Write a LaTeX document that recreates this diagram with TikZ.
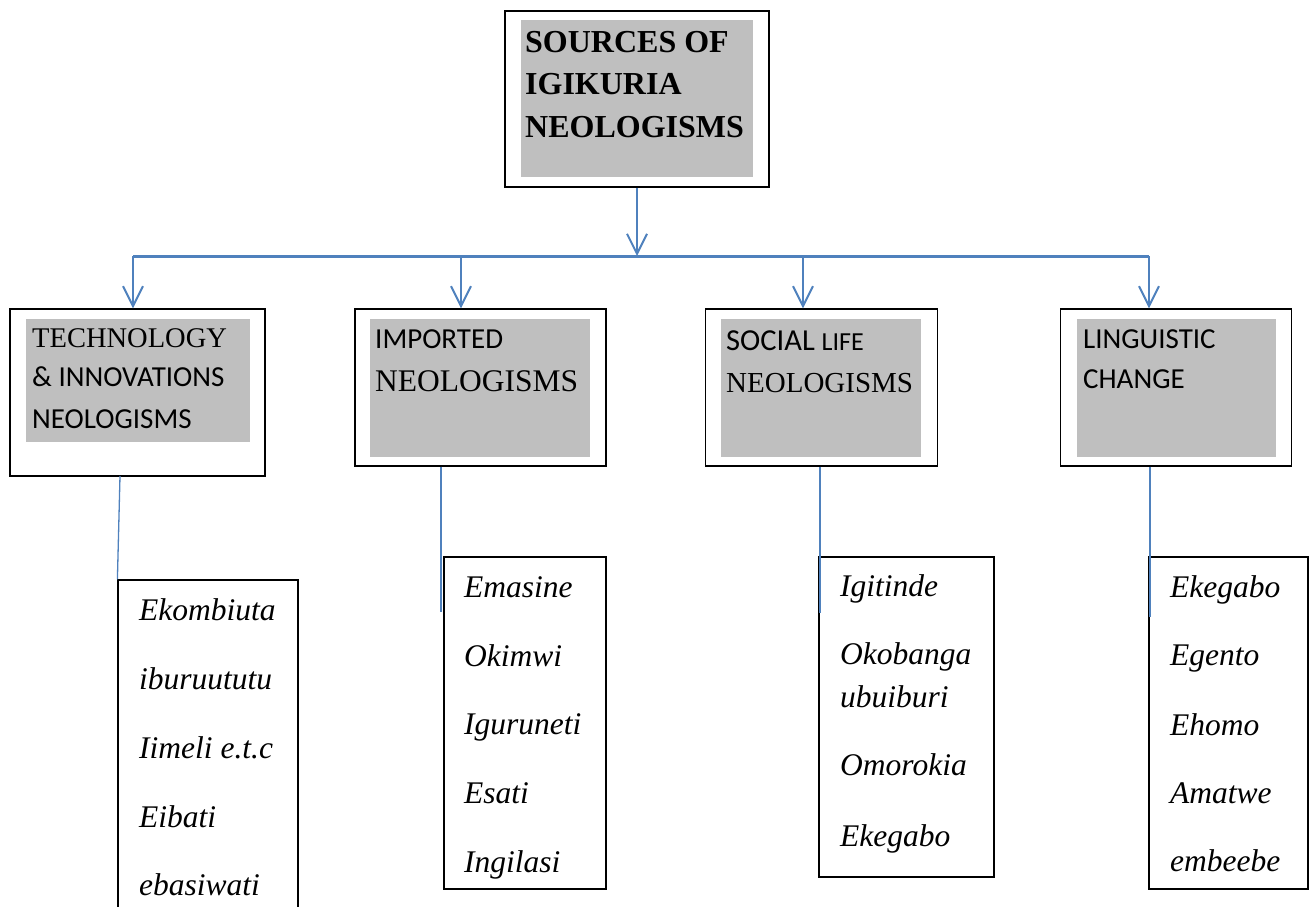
\documentclass[tikz,border=0pt]{standalone}
\usepackage{fontspec}
\setmainfont{Liberation Serif}
\newfontfamily\calfont{Carlito}
\usetikzlibrary{arrows.meta}

\definecolor{linkblue}{HTML}{4F81BD}
\definecolor{boxgray}{HTML}{BFBFBF}

\tikzset{
  outerbox/.style={draw, line width=1.2pt, inner sep=0pt},
  graybox/.style={fill=boxgray, inner sep=0pt},
  head/.style={anchor=base west, inner sep=0pt},
  word/.style={anchor=base west, inner sep=0pt, font=\fontsize{31.5}{38}\selectfont\itshape},
  arr/.style={linkblue, line width=2pt, -{Straight Barb[length=20pt,width=20pt]}},
  link/.style={linkblue, line width=1.3pt},
}

\begin{document}
\begin{tikzpicture}[x=1pt,y=-1pt]
	\clip (0,0) rectangle (1309,907);
	% top box
	\node[outerbox, minimum width=264, minimum height=176] (src) at (637,99) {};
	\node[graybox, minimum width=232, minimum height=157] (srcg) at (637,98.5) {};
	\node[head, font=\fontsize{32}{38}\selectfont\bfseries] (srct1) at (525,53) {SOURCES OF};
	\node[head, font=\fontsize{32}{38}\selectfont\bfseries] (srct2) at (525,95) {IGIKURIA};
	\node[head, font=\fontsize{32}{38}\selectfont\bfseries] (srct3) at (525,137) {NEOLOGISMS};
	% second row
	\node[outerbox, minimum width=255, minimum height=167] (tech) at (137.5,392.5) {};
	\node[graybox, minimum width=224, minimum height=123] (techg) at (138,380.5) {};
	\node[head, font=\fontsize{28.5}{34}\selectfont] (techt1) at (32,347) {TECHNOLOGY};
	\node[head, font=\calfont\fontsize{29}{35}\selectfont] (techt2) at (32,386) {\& INNOVATIONS};
	\node[head, font=\calfont\fontsize{29}{35}\selectfont] (techt3) at (32,428) {NEOLOGISMS};
	\node[outerbox, minimum width=251, minimum height=157] (imp) at (480.5,387.5) {};
	\node[graybox, minimum width=220, minimum height=138] (impg) at (480,388) {};
	\node[head, font=\calfont\fontsize{29}{35}\selectfont] (impt1) at (375,348) {IMPORTED};
	\node[head, font=\fontsize{31.5}{38}\selectfont] (impt2) at (375,391) {NEOLOGISMS};
	\node[outerbox, minimum width=232, minimum height=157] (soc) at (821.5,387.5) {};
	\node[graybox, minimum width=200, minimum height=138] (socg) at (821,388) {};
	\node[head, font=\calfont\fontsize{30.5}{36}\selectfont] (soct1) at (726,350) {SOCIAL {\fontsize{26}{31}\selectfont LIFE}};
	\node[head, font=\fontsize{29}{35}\selectfont] (soct2) at (726,392) {NEOLOGISMS};
	\node[outerbox, minimum width=231, minimum height=157] (ling) at (1176,387.5) {};
	\node[graybox, minimum width=199, minimum height=138] (lingg) at (1176,388) {};
	\node[head, font=\calfont\fontsize{29}{35}\selectfont] (lingt1) at (1083,348) {LINGUISTIC};
	\node[head, font=\calfont\fontsize{29}{35}\selectfont] (lingt2) at (1083,388) {CHANGE};
	% arrows
	\coordinate (b1) at (133,256);
	\coordinate (b2) at (461,256);
	\coordinate (b3) at (803,256);
	\coordinate (b4) at (1149,256);
	\draw[arr] (src.south) -- (src.south |- b1);
	\draw[linkblue, line width=3pt] (b1) -- (b4);
	\draw[arr] (b1) -- (b1 |- tech.north);
	\draw[arr] (b2) -- (b2 |- imp.north);
	\draw[arr] (b3) -- (b3 |- soc.north);
	\draw[arr] (b4) -- (b4 |- ling.north);
	% lists
	\node[outerbox, minimum width=180, minimum height=360] (techlist) at (208,760) {};
	\node[word] (w11) at (139,620) {Ekombiuta};
	\node[word] (w12) at (139,689) {iburuututu};
	\node[word] (w13) at (139,758) {Iimeli e.t.c};
	\node[word] (w14) at (139,827) {Eibati};
	\node[word] (w15) at (139,895) {ebasiwati};
	\node[outerbox, minimum width=162, minimum height=332] (implist) at (525,723) {};
	\node[word] (w21) at (464,597) {Emasine};
	\node[word] (w22) at (464,666) {Okimwi};
	\node[word] (w23) at (464,734) {Iguruneti};
	\node[word] (w24) at (464,803) {Esati};
	\node[word] (w25) at (464,872) {Ingilasi};
	\node[outerbox, minimum width=175, minimum height=320] (soclist) at (906.5,717) {};
	\node[word] (w31) at (840,596) {Igitinde};
	\node[word] (w32) at (840,664) {Okobanga};
	\node[word] (w33) at (840,707) {ubuiburi};
	\node[word] (w34) at (840,775) {Omorokia};
	\node[word] (w35) at (840,846) {Ekegabo};
	\node[outerbox, minimum width=159, minimum height=332] (linglist) at (1228.5,723) {};
	\node[word] (w41) at (1170,597) {Ekegabo};
	\node[word] (w42) at (1170,665) {Egento};
	\node[word] (w43) at (1170,735) {Ehomo};
	\node[word] (w44) at (1170,803) {Amatwe};
	\node[word] (w45) at (1170,871) {embeebe};
	% thin links down to the lists
	\coordinate (techtop) at (120,476);
	\coordinate (impend) at (441,612);
	\coordinate (socend) at (820,613);
	\coordinate (lingend) at (1150,617);
	\draw[link] (techtop) -- (techlist.north west);
	\draw[link] (imp.south -| impend) -- (impend);
	\draw[link] (soc.south -| socend) -- (socend);
	\draw[link] (ling.south -| lingend) -- (lingend);
\end{tikzpicture}
\end{document}
